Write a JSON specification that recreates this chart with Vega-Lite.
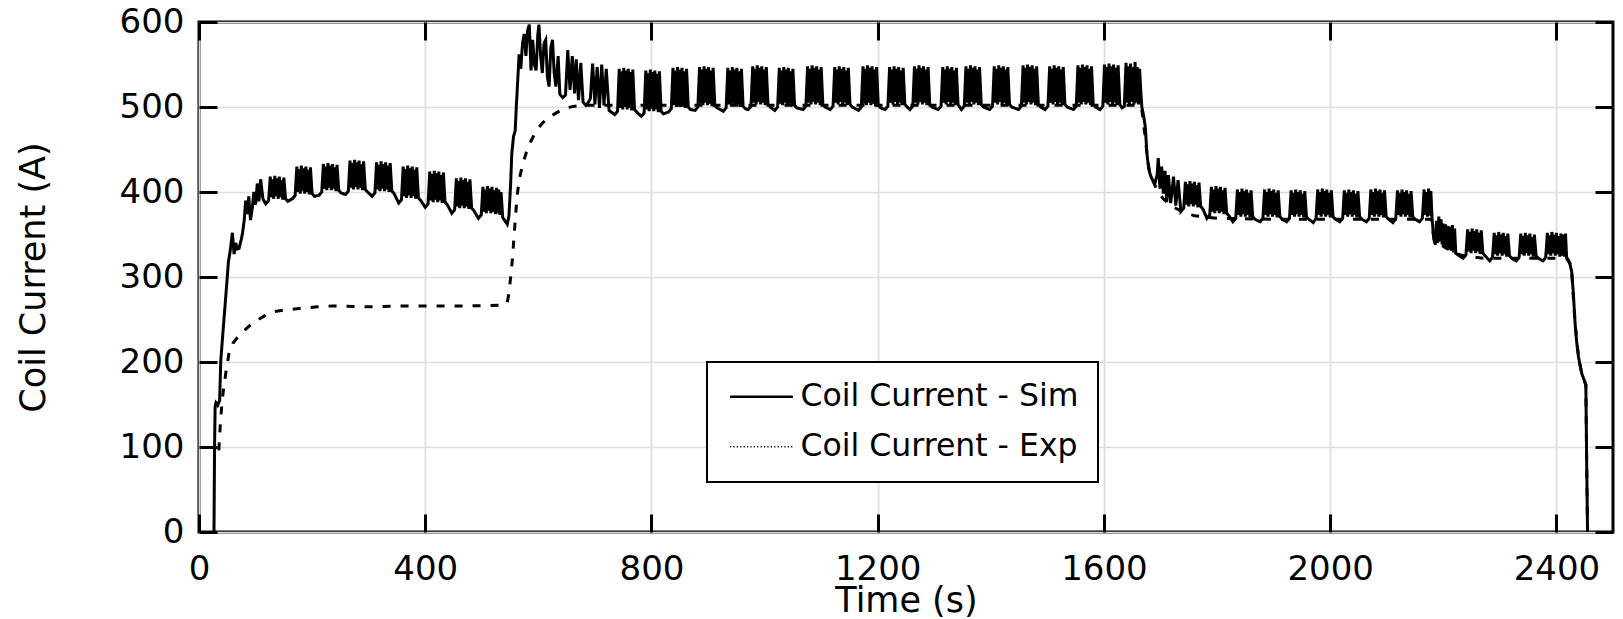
{
"$schema": "https://vega.github.io/schema/vega-lite/v6.json",
"autosize": {"type": "none"},
"padding": {"left": 199, "top": 22, "right": 10, "bottom": 87},
"width": 1414,
"height": 510,
"background": "white",
"config": {
  "view": {"stroke": "black", "strokeWidth": 3},
  "font": "DejaVu Sans",
  "axis": {"labelFont": "DejaVu Sans", "titleFont": "DejaVu Sans", "labelColor": "black", "titleColor": "black", "titleFontWeight": "normal", "labelFontSize": 34, "titleFontSize": 35, "gridColor": "#dcdcdc", "gridWidth": 1.7, "tickColor": "black", "tickWidth": 3, "domain": false, "labelFlush": false, "labelOverlap": false},
  "legend": {"labelFont": "DejaVu Sans", "labelFontSize": 31.5, "labelColor": "black", "labelLimit": 0}
},
"datasets": {
"sim": [
{"t":26.5,"i":0},{"t":27.5,"i":100},{"t":28.5,"i":148},{"t":30,"i":152},{"t":33,"i":149},{"t":36.5,"i":155},{"t":38.5,"i":202},{"t":44,"i":249},{"t":50,"i":300},{"t":52,"i":318},{"t":55,"i":330},{"t":59,"i":352},{"t":62,"i":327},{"t":65,"i":340},{"t":68,"i":333},{"t":71,"i":334},{"t":75,"i":345},{"t":77,"i":352},{"t":80,"i":367},{"t":82.5,"i":390},{"t":85.5,"i":374},{"t":88,"i":395},{"t":91,"i":367},{"t":94,"i":380},{"t":97,"i":400},{"t":100,"i":385},{"t":103,"i":410},{"t":106,"i":389},{"t":109,"i":415},{"t":113,"i":392},
{"t":118,"i":386},{"t":123,"i":390},{"t":126,"i":418},{"t":128,"i":394},{"t":130,"i":415},{"t":132,"i":392},{"t":134,"i":419},{"t":136,"i":395},{"t":138,"i":416},{"t":140,"i":392},{"t":142,"i":418},{"t":144,"i":394},{"t":146,"i":414},{"t":148,"i":391},{"t":150,"i":417},{"t":153,"i":392},{"t":157,"i":389},
{"t":165,"i":392},{"t":170,"i":396},{"t":173,"i":430},{"t":175,"i":400},{"t":177,"i":427},{"t":179,"i":398},{"t":181,"i":431},{"t":183,"i":401},{"t":185,"i":428},{"t":187,"i":398},{"t":189,"i":430},{"t":191,"i":400},{"t":193,"i":426},{"t":195,"i":397},{"t":197,"i":429},{"t":200,"i":398},{"t":204,"i":395},
{"t":212,"i":396},{"t":217,"i":400},{"t":220,"i":433},{"t":222,"i":404},{"t":224,"i":430},{"t":226,"i":402},{"t":228,"i":434},{"t":230,"i":405},{"t":232,"i":431},{"t":234,"i":402},{"t":236,"i":433},{"t":238,"i":404},{"t":240,"i":429},{"t":242,"i":401},{"t":244,"i":432},{"t":247,"i":402},{"t":251,"i":399},
{"t":259,"i":397},{"t":264,"i":401},{"t":267,"i":437},{"t":269,"i":405},{"t":271,"i":434},{"t":273,"i":403},{"t":275,"i":438},{"t":277,"i":406},{"t":279,"i":435},{"t":281,"i":403},{"t":283,"i":437},{"t":285,"i":405},{"t":287,"i":433},{"t":289,"i":402},{"t":291,"i":436},{"t":294,"i":403},{"t":298,"i":400},
{"t":306,"i":395},{"t":311,"i":399},{"t":314,"i":435},{"t":316,"i":403},{"t":318,"i":432},{"t":320,"i":401},{"t":322,"i":436},{"t":324,"i":404},{"t":326,"i":433},{"t":328,"i":401},{"t":330,"i":435},{"t":332,"i":403},{"t":334,"i":431},{"t":336,"i":400},{"t":338,"i":434},{"t":341,"i":401},{"t":345,"i":398},
{"t":353,"i":387},{"t":358,"i":391},{"t":361,"i":430},{"t":363,"i":395},{"t":365,"i":427},{"t":367,"i":393},{"t":369,"i":431},{"t":371,"i":396},{"t":373,"i":428},{"t":375,"i":393},{"t":377,"i":430},{"t":379,"i":395},{"t":381,"i":426},{"t":383,"i":392},{"t":385,"i":429},{"t":388,"i":393},{"t":392,"i":390},
{"t":400,"i":382},{"t":405,"i":386},{"t":408,"i":424},{"t":410,"i":390},{"t":412,"i":421},{"t":414,"i":388},{"t":416,"i":425},{"t":418,"i":391},{"t":420,"i":422},{"t":422,"i":388},{"t":424,"i":424},{"t":426,"i":390},{"t":428,"i":420},{"t":430,"i":387},{"t":432,"i":423},{"t":435,"i":388},{"t":439,"i":385},
{"t":447,"i":375},{"t":452,"i":379},{"t":455,"i":416},{"t":457,"i":383},{"t":459,"i":413},{"t":461,"i":381},{"t":463,"i":417},{"t":465,"i":384},{"t":467,"i":414},{"t":469,"i":381},{"t":471,"i":416},{"t":473,"i":383},{"t":475,"i":412},{"t":477,"i":380},{"t":479,"i":415},{"t":482,"i":381},{"t":486,"i":378},
{"t":494,"i":369},{"t":499,"i":373},{"t":502,"i":406},{"t":504,"i":377},{"t":506,"i":403},{"t":508,"i":375},{"t":510,"i":407},{"t":512,"i":378},{"t":514,"i":404},{"t":516,"i":375},{"t":518,"i":406},{"t":520,"i":377},{"t":522,"i":402},{"t":524,"i":374},{"t":526,"i":405},{"t":528,"i":375},{"t":530,"i":403},{"t":532,"i":373},{"t":534,"i":400},{"t":537,"i":370},{"t":541,"i":366},{"t":545,"i":362},
{"t":548,"i":372},{"t":551,"i":410},{"t":553,"i":445},{"t":556,"i":465},{"t":559,"i":472},{"t":561,"i":500},{"t":563,"i":525},{"t":566,"i":562},{"t":569,"i":545},{"t":572,"i":575},{"t":575,"i":586},{"t":578,"i":560},{"t":581,"i":590},{"t":584,"i":597},{"t":587,"i":543},{"t":590,"i":579},{"t":593,"i":550},{"t":596,"i":543},{"t":599,"i":585},{"t":601,"i":597},{"t":604,"i":560},{"t":607,"i":540},{"t":610,"i":575},{"t":613,"i":579},{"t":616,"i":535},{"t":619,"i":524},{"t":622,"i":570},{"t":625,"i":579},{"t":628,"i":540},{"t":631,"i":524},{"t":635,"i":560},{"t":638,"i":515},{"t":643,"i":511},{"t":648,"i":514},{"t":652,"i":567},{"t":656,"i":520},{"t":660,"i":560},{"t":664,"i":516},{"t":667,"i":556},{"t":671,"i":508},{"t":675,"i":552},{"t":679,"i":506},{"t":684,"i":502},{"t":688,"i":505},{"t":692,"i":510},{"t":696,"i":551},{"t":700,"i":503},{"t":704,"i":547},{"t":708,"i":499},{"t":712,"i":550},{"t":716,"i":502},{"t":720,"i":545},{"t":725,"i":496},
{"t":735,"i":491},{"t":740,"i":495},{"t":743,"i":545},{"t":745,"i":499},{"t":747,"i":542},{"t":749,"i":497},{"t":751,"i":546},{"t":753,"i":500},{"t":755,"i":543},{"t":757,"i":497},{"t":759,"i":545},{"t":761,"i":499},{"t":763,"i":541},{"t":765,"i":496},{"t":767,"i":544},{"t":770,"i":497},{"t":774,"i":494},
{"t":782,"i":489},{"t":787,"i":493},{"t":790,"i":543},{"t":792,"i":497},{"t":794,"i":540},{"t":796,"i":495},{"t":798,"i":544},{"t":800,"i":498},{"t":802,"i":541},{"t":804,"i":495},{"t":806,"i":543},{"t":808,"i":497},{"t":810,"i":539},{"t":812,"i":494},{"t":814,"i":542},{"t":817,"i":495},{"t":821,"i":492},
{"t":830,"i":494},{"t":835,"i":498},{"t":838,"i":546},{"t":840,"i":502},{"t":842,"i":543},{"t":844,"i":500},{"t":846,"i":547},{"t":848,"i":503},{"t":850,"i":544},{"t":852,"i":500},{"t":854,"i":546},{"t":856,"i":502},{"t":858,"i":542},{"t":860,"i":499},{"t":862,"i":545},{"t":865,"i":500},{"t":869,"i":497},
{"t":877,"i":496},{"t":882,"i":500},{"t":885,"i":547},{"t":887,"i":504},{"t":889,"i":544},{"t":891,"i":502},{"t":893,"i":548},{"t":895,"i":505},{"t":897,"i":545},{"t":899,"i":502},{"t":901,"i":547},{"t":903,"i":504},{"t":905,"i":543},{"t":907,"i":501},{"t":909,"i":546},{"t":912,"i":502},{"t":916,"i":499},
{"t":927,"i":495},{"t":932,"i":499},{"t":935,"i":546},{"t":937,"i":503},{"t":939,"i":543},{"t":941,"i":501},{"t":943,"i":547},{"t":945,"i":504},{"t":947,"i":544},{"t":949,"i":501},{"t":951,"i":546},{"t":953,"i":503},{"t":955,"i":542},{"t":957,"i":500},{"t":959,"i":545},{"t":962,"i":501},{"t":966,"i":498},
{"t":971,"i":497},{"t":976,"i":501},{"t":979,"i":548},{"t":981,"i":505},{"t":983,"i":545},{"t":985,"i":503},{"t":987,"i":549},{"t":989,"i":506},{"t":991,"i":546},{"t":993,"i":503},{"t":995,"i":548},{"t":997,"i":505},{"t":999,"i":544},{"t":1001,"i":502},{"t":1003,"i":547},{"t":1006,"i":503},{"t":1010,"i":500},
{"t":1018,"i":496},{"t":1023,"i":500},{"t":1026,"i":546},{"t":1028,"i":504},{"t":1030,"i":543},{"t":1032,"i":502},{"t":1034,"i":547},{"t":1036,"i":505},{"t":1038,"i":544},{"t":1040,"i":502},{"t":1042,"i":546},{"t":1044,"i":504},{"t":1046,"i":542},{"t":1048,"i":501},{"t":1050,"i":545},{"t":1053,"i":502},{"t":1057,"i":499},
{"t":1068,"i":497},{"t":1073,"i":501},{"t":1076,"i":548},{"t":1078,"i":505},{"t":1080,"i":545},{"t":1082,"i":503},{"t":1084,"i":549},{"t":1086,"i":506},{"t":1088,"i":546},{"t":1090,"i":503},{"t":1092,"i":548},{"t":1094,"i":505},{"t":1096,"i":544},{"t":1098,"i":502},{"t":1100,"i":547},{"t":1103,"i":503},{"t":1107,"i":500},
{"t":1116,"i":497},{"t":1121,"i":501},{"t":1124,"i":547},{"t":1126,"i":505},{"t":1128,"i":544},{"t":1130,"i":503},{"t":1132,"i":548},{"t":1134,"i":506},{"t":1136,"i":545},{"t":1138,"i":503},{"t":1140,"i":547},{"t":1142,"i":505},{"t":1144,"i":543},{"t":1146,"i":502},{"t":1148,"i":546},{"t":1151,"i":503},{"t":1155,"i":500},
{"t":1166,"i":496},{"t":1171,"i":500},{"t":1174,"i":548},{"t":1176,"i":504},{"t":1178,"i":545},{"t":1180,"i":502},{"t":1182,"i":549},{"t":1184,"i":505},{"t":1186,"i":546},{"t":1188,"i":502},{"t":1190,"i":548},{"t":1192,"i":504},{"t":1194,"i":544},{"t":1196,"i":501},{"t":1198,"i":547},{"t":1201,"i":502},{"t":1205,"i":499},
{"t":1213,"i":497},{"t":1218,"i":501},{"t":1221,"i":547},{"t":1223,"i":505},{"t":1225,"i":544},{"t":1227,"i":503},{"t":1229,"i":548},{"t":1231,"i":506},{"t":1233,"i":545},{"t":1235,"i":503},{"t":1237,"i":547},{"t":1239,"i":505},{"t":1241,"i":543},{"t":1243,"i":502},{"t":1245,"i":546},{"t":1248,"i":503},{"t":1252,"i":500},
{"t":1257,"i":497},{"t":1262,"i":501},{"t":1265,"i":548},{"t":1267,"i":505},{"t":1269,"i":545},{"t":1271,"i":503},{"t":1273,"i":549},{"t":1275,"i":506},{"t":1277,"i":546},{"t":1279,"i":503},{"t":1281,"i":548},{"t":1283,"i":505},{"t":1285,"i":544},{"t":1287,"i":502},{"t":1289,"i":547},{"t":1292,"i":503},{"t":1296,"i":500},
{"t":1307,"i":497},{"t":1312,"i":501},{"t":1315,"i":547},{"t":1317,"i":505},{"t":1319,"i":544},{"t":1321,"i":503},{"t":1323,"i":548},{"t":1325,"i":506},{"t":1327,"i":545},{"t":1329,"i":503},{"t":1331,"i":547},{"t":1333,"i":505},{"t":1335,"i":543},{"t":1337,"i":502},{"t":1339,"i":546},{"t":1342,"i":503},{"t":1345,"i":500},
{"t":1348,"i":497},{"t":1353,"i":501},{"t":1356,"i":548},{"t":1358,"i":505},{"t":1360,"i":545},{"t":1362,"i":503},{"t":1364,"i":549},{"t":1366,"i":506},{"t":1368,"i":546},{"t":1370,"i":503},{"t":1372,"i":548},{"t":1374,"i":505},{"t":1376,"i":544},{"t":1378,"i":502},{"t":1380,"i":547},{"t":1383,"i":503},{"t":1387,"i":500},
{"t":1398,"i":497},{"t":1403,"i":501},{"t":1406,"i":548},{"t":1408,"i":505},{"t":1410,"i":545},{"t":1412,"i":503},{"t":1414,"i":549},{"t":1416,"i":506},{"t":1418,"i":546},{"t":1420,"i":503},{"t":1422,"i":548},{"t":1424,"i":505},{"t":1426,"i":544},{"t":1428,"i":502},{"t":1430,"i":547},{"t":1433,"i":503},{"t":1437,"i":500},
{"t":1449,"i":497},{"t":1454,"i":501},{"t":1457,"i":549},{"t":1459,"i":505},{"t":1461,"i":546},{"t":1463,"i":503},{"t":1465,"i":550},{"t":1467,"i":506},{"t":1469,"i":547},{"t":1471,"i":503},{"t":1473,"i":549},{"t":1475,"i":505},{"t":1477,"i":545},{"t":1479,"i":502},{"t":1481,"i":548},{"t":1484,"i":503},{"t":1488,"i":500},
{"t":1496,"i":497},{"t":1501,"i":501},{"t":1504,"i":548},{"t":1506,"i":505},{"t":1508,"i":545},{"t":1510,"i":503},{"t":1512,"i":549},{"t":1514,"i":506},{"t":1516,"i":546},{"t":1518,"i":503},{"t":1520,"i":548},{"t":1522,"i":505},{"t":1524,"i":544},{"t":1526,"i":502},{"t":1528,"i":547},{"t":1531,"i":503},{"t":1535,"i":500},
{"t":1546,"i":497},{"t":1551,"i":501},{"t":1554,"i":549},{"t":1556,"i":505},{"t":1558,"i":546},{"t":1560,"i":503},{"t":1562,"i":550},{"t":1564,"i":506},{"t":1566,"i":547},{"t":1568,"i":503},{"t":1570,"i":549},{"t":1572,"i":505},{"t":1574,"i":545},{"t":1576,"i":502},{"t":1578,"i":548},{"t":1581,"i":503},{"t":1585,"i":500},
{"t":1593,"i":497},{"t":1598,"i":501},{"t":1601,"i":550},{"t":1603,"i":505},{"t":1605,"i":547},{"t":1607,"i":503},{"t":1609,"i":551},{"t":1611,"i":506},{"t":1613,"i":548},{"t":1615,"i":503},{"t":1617,"i":550},{"t":1619,"i":505},{"t":1621,"i":546},{"t":1623,"i":502},{"t":1625,"i":549},{"t":1628,"i":503},{"t":1632,"i":499},{"t":1636,"i":501},{"t":1639,"i":552},{"t":1641,"i":505},{"t":1643,"i":548},{"t":1645,"i":503},{"t":1647,"i":551},{"t":1649,"i":506},{"t":1651,"i":547},{"t":1653,"i":503},{"t":1655,"i":553},{"t":1657,"i":505},{"t":1659,"i":547},{"t":1661,"i":503},{"t":1663,"i":545},{"t":1665,"i":520},
{"t":1667,"i":500},{"t":1670,"i":490},{"t":1673,"i":477},{"t":1676,"i":445},{"t":1679,"i":428},{"t":1682,"i":420},{"t":1686,"i":414},{"t":1690,"i":410},{"t":1694,"i":420},{"t":1696,"i":440},{"t":1699,"i":404},{"t":1702,"i":430},{"t":1705,"i":398},{"t":1708,"i":425},{"t":1711,"i":388},{"t":1714,"i":420},{"t":1718,"i":387},{"t":1723,"i":418},{"t":1727,"i":384},{"t":1731,"i":414},
{"t":1736,"i":377},{"t":1741,"i":381},{"t":1744,"i":412},{"t":1746,"i":385},{"t":1748,"i":409},{"t":1750,"i":383},{"t":1752,"i":413},{"t":1754,"i":386},{"t":1756,"i":410},{"t":1758,"i":383},{"t":1760,"i":412},{"t":1762,"i":385},{"t":1764,"i":408},{"t":1766,"i":382},{"t":1768,"i":411},{"t":1771,"i":383},{"t":1775,"i":380},
{"t":1782,"i":369},{"t":1787,"i":373},{"t":1790,"i":406},{"t":1792,"i":377},{"t":1794,"i":403},{"t":1796,"i":375},{"t":1798,"i":407},{"t":1800,"i":378},{"t":1802,"i":404},{"t":1804,"i":375},{"t":1806,"i":406},{"t":1808,"i":377},{"t":1810,"i":402},{"t":1812,"i":374},{"t":1814,"i":405},{"t":1817,"i":375},{"t":1821,"i":372},
{"t":1828,"i":365},{"t":1833,"i":369},{"t":1836,"i":403},{"t":1838,"i":373},{"t":1840,"i":400},{"t":1842,"i":371},{"t":1844,"i":404},{"t":1846,"i":374},{"t":1848,"i":401},{"t":1850,"i":371},{"t":1852,"i":403},{"t":1854,"i":373},{"t":1856,"i":399},{"t":1858,"i":370},{"t":1860,"i":402},{"t":1863,"i":371},{"t":1867,"i":368},
{"t":1876,"i":365},{"t":1881,"i":369},{"t":1884,"i":403},{"t":1886,"i":373},{"t":1888,"i":400},{"t":1890,"i":371},{"t":1892,"i":404},{"t":1894,"i":374},{"t":1896,"i":401},{"t":1898,"i":371},{"t":1900,"i":403},{"t":1902,"i":373},{"t":1904,"i":399},{"t":1906,"i":370},{"t":1908,"i":402},{"t":1911,"i":371},{"t":1915,"i":368},
{"t":1923,"i":365},{"t":1928,"i":369},{"t":1931,"i":402},{"t":1933,"i":373},{"t":1935,"i":399},{"t":1937,"i":371},{"t":1939,"i":403},{"t":1941,"i":374},{"t":1943,"i":400},{"t":1945,"i":371},{"t":1947,"i":402},{"t":1949,"i":373},{"t":1951,"i":398},{"t":1953,"i":370},{"t":1955,"i":401},{"t":1958,"i":371},{"t":1962,"i":368},
{"t":1970,"i":364},{"t":1975,"i":369},{"t":1978,"i":403},{"t":1980,"i":373},{"t":1982,"i":400},{"t":1984,"i":371},{"t":1986,"i":404},{"t":1988,"i":374},{"t":1990,"i":401},{"t":1992,"i":371},{"t":1994,"i":403},{"t":1996,"i":373},{"t":1998,"i":399},{"t":2000,"i":370},{"t":2002,"i":402},{"t":2005,"i":371},{"t":2009,"i":368},
{"t":2017,"i":365},{"t":2022,"i":369},{"t":2025,"i":402},{"t":2027,"i":373},{"t":2029,"i":399},{"t":2031,"i":371},{"t":2033,"i":403},{"t":2035,"i":374},{"t":2037,"i":400},{"t":2039,"i":371},{"t":2041,"i":402},{"t":2043,"i":373},{"t":2045,"i":398},{"t":2047,"i":370},{"t":2049,"i":401},{"t":2052,"i":371},{"t":2056,"i":368},
{"t":2064,"i":365},{"t":2069,"i":369},{"t":2072,"i":403},{"t":2074,"i":373},{"t":2076,"i":400},{"t":2078,"i":371},{"t":2080,"i":404},{"t":2082,"i":374},{"t":2084,"i":401},{"t":2086,"i":371},{"t":2088,"i":403},{"t":2090,"i":373},{"t":2092,"i":399},{"t":2094,"i":370},{"t":2096,"i":402},{"t":2099,"i":371},{"t":2103,"i":368},
{"t":2111,"i":364},{"t":2116,"i":369},{"t":2119,"i":402},{"t":2121,"i":373},{"t":2123,"i":399},{"t":2125,"i":371},{"t":2127,"i":403},{"t":2129,"i":374},{"t":2131,"i":400},{"t":2133,"i":371},{"t":2135,"i":402},{"t":2137,"i":373},{"t":2139,"i":398},{"t":2141,"i":370},{"t":2143,"i":401},{"t":2146,"i":371},{"t":2150,"i":368},
{"t":2158,"i":365},{"t":2163,"i":369},{"t":2166,"i":403},{"t":2168,"i":373},{"t":2170,"i":400},{"t":2172,"i":371},{"t":2174,"i":404},{"t":2176,"i":372},{"t":2178,"i":401},{"t":2180,"i":370},{"t":2183,"i":345},{"t":2186,"i":338},{"t":2188,"i":366},{"t":2190,"i":340},{"t":2192,"i":371},{"t":2194,"i":342},{"t":2196,"i":368},{"t":2198,"i":338},{"t":2200,"i":363},{"t":2202,"i":336},{"t":2204,"i":362},{"t":2206,"i":334},{"t":2208,"i":360},{"t":2210,"i":332},{"t":2212,"i":359},{"t":2214,"i":331},{"t":2216,"i":361},{"t":2218,"i":329},{"t":2220,"i":357},{"t":2222,"i":328},{"t":2226,"i":326},
{"t":2235,"i":322},{"t":2240,"i":326},{"t":2243,"i":356},{"t":2245,"i":330},{"t":2247,"i":353},{"t":2249,"i":328},{"t":2251,"i":357},{"t":2253,"i":331},{"t":2255,"i":354},{"t":2257,"i":328},{"t":2259,"i":356},{"t":2261,"i":330},{"t":2263,"i":352},{"t":2265,"i":327},{"t":2267,"i":355},{"t":2270,"i":328},{"t":2274,"i":325},
{"t":2282,"i":319},{"t":2287,"i":323},{"t":2290,"i":352},{"t":2292,"i":327},{"t":2294,"i":349},{"t":2296,"i":325},{"t":2298,"i":353},{"t":2300,"i":328},{"t":2302,"i":350},{"t":2304,"i":325},{"t":2306,"i":352},{"t":2308,"i":327},{"t":2310,"i":348},{"t":2312,"i":324},{"t":2314,"i":351},{"t":2317,"i":325},{"t":2321,"i":322},
{"t":2329,"i":319},{"t":2334,"i":323},{"t":2337,"i":351},{"t":2339,"i":327},{"t":2341,"i":348},{"t":2343,"i":325},{"t":2345,"i":352},{"t":2347,"i":328},{"t":2349,"i":349},{"t":2351,"i":325},{"t":2353,"i":351},{"t":2355,"i":327},{"t":2357,"i":347},{"t":2359,"i":324},{"t":2361,"i":350},{"t":2364,"i":325},{"t":2368,"i":322},
{"t":2376,"i":319},{"t":2381,"i":323},{"t":2384,"i":352},{"t":2386,"i":327},{"t":2388,"i":349},{"t":2390,"i":325},{"t":2392,"i":353},{"t":2394,"i":328},{"t":2396,"i":350},{"t":2398,"i":325},{"t":2400,"i":352},{"t":2402,"i":327},{"t":2404,"i":348},{"t":2406,"i":324},{"t":2408,"i":351},{"t":2410,"i":325},{"t":2412,"i":350},{"t":2414,"i":324},{"t":2416,"i":351},{"t":2418,"i":323},{"t":2421,"i":320},
{"t":2424,"i":315},{"t":2427,"i":306},{"t":2430,"i":280},{"t":2433,"i":245},{"t":2436,"i":222},{"t":2439,"i":206},{"t":2442,"i":195},{"t":2445,"i":186},{"t":2449,"i":179},{"t":2452,"i":173},{"t":2453.5,"i":80},{"t":2455,"i":0}
],
"exp": [
{"t":35,"i":96},{"t":38,"i":130},{"t":41,"i":155},{"t":44,"i":171},{"t":48,"i":190},{"t":53,"i":210},{"t":60,"i":222},{"t":68,"i":229},{"t":77,"i":235},{"t":88,"i":242},{"t":100,"i":248},{"t":115,"i":254},{"t":130,"i":259},{"t":150,"i":261},{"t":177,"i":263},{"t":210,"i":265},{"t":236,"i":266},{"t":300,"i":265},{"t":360,"i":266},{"t":413,"i":266},{"t":480,"i":266},{"t":540,"i":267},{"t":545,"i":270},{"t":548,"i":281},{"t":551,"i":300},{"t":554,"i":320},{"t":557,"i":348},{"t":560,"i":375},{"t":563,"i":398},{"t":566,"i":414},{"t":572,"i":432},{"t":578,"i":445},{"t":587,"i":460},{"t":596,"i":472},{"t":607,"i":481},{"t":619,"i":488},{"t":634,"i":494},{"t":649,"i":499},{"t":665,"i":501},{"t":680,"i":502},{"t":800,"i":502},{"t":1000,"i":502},{"t":1200,"i":502},{"t":1400,"i":502},{"t":1600,"i":502},{"t":1664,"i":502},{"t":1667,"i":497},{"t":1670,"i":480},{"t":1673,"i":465},{"t":1676,"i":445},{"t":1680,"i":426},{"t":1686,"i":414},{"t":1694,"i":402},{"t":1705,"i":392},{"t":1718,"i":384},{"t":1735,"i":378},{"t":1760,"i":372},{"t":1800,"i":369},{"t":1900,"i":368},{"t":2000,"i":368},{"t":2100,"i":368},{"t":2178,"i":368},{"t":2183,"i":348},{"t":2190,"i":340},{"t":2205,"i":334},{"t":2230,"i":326},{"t":2270,"i":322},{"t":2350,"i":322},{"t":2418,"i":322},{"t":2424,"i":316},{"t":2427,"i":306},{"t":2433,"i":245},{"t":2439,"i":206},{"t":2445,"i":186},{"t":2452,"i":173},{"t":2453.5,"i":80},{"t":2455,"i":0}
]
},
"layer": [
{
  "data": {"name": "exp"},
  "mark": {"type": "line", "strokeWidth": 3, "color": "black", "strokeDash": [8, 10]},
  "encoding": {
    "x": {"field": "t", "type": "quantitative", "scale": {"domain": [0, 2500], "nice": false, "zero": false},
      "axis": {"orient": "bottom", "values": [0, 400, 800, 1200, 1600, 2000, 2400], "format": "d", "title": "Time (s)", "grid": true, "tickSize": -18, "labelPadding": 38, "titlePadding": -3}},
    "y": {"field": "i", "type": "quantitative", "scale": {"domain": [0, 600], "nice": false},
      "axis": {"orient": "left", "values": [0, 100, 200, 300, 400, 500, 600], "format": "d", "title": "Coil Current (A)", "grid": true, "tickSize": -18, "labelPadding": 33, "titlePadding": 68}}
  }
},
{
  "data": {"name": "sim"},
  "mark": {"type": "line", "strokeWidth": 3, "color": "black"},
  "encoding": {
    "x": {"field": "t", "type": "quantitative",
      "axis": {"orient": "top", "values": [0, 400, 800, 1200, 1600, 2000, 2400], "labels": false, "title": null, "grid": false, "tickSize": -18}},
    "y": {"field": "i", "type": "quantitative",
      "axis": {"orient": "right", "values": [0, 100, 200, 300, 400, 500, 600], "labels": false, "title": null, "grid": false, "tickSize": -18}},
    "strokeDash": {"datum": "Coil Current - Sim", "type": "nominal",
      "scale": {"domain": ["Coil Current - Sim", "Coil Current - Exp"], "range": [[1, 0], [1.2, 2.2]]},
      "legend": {"title": null, "orient": "none", "legendX": 508, "legendY": 340, "strokeColor": "black", "fillColor": "white", "padding": 19,
        "symbolType": "M-1.12,0H4.88", "symbolSize": 441, "symbolStrokeColor": "black", "symbolStrokeWidth": 2.2, "labelOffset": 43, "rowPadding": 17,
        "encode": {
          "legend": {"update": {"strokeWidth": {"value": 2}}},
          "symbols": {"update": {"strokeWidth": {"signal": "datum.value === 'Coil Current - Exp' ? 1.4 : 2.5"}}}}}}
  }
}
],
"resolve": {"axis": {"x": "independent", "y": "independent"}}
}
